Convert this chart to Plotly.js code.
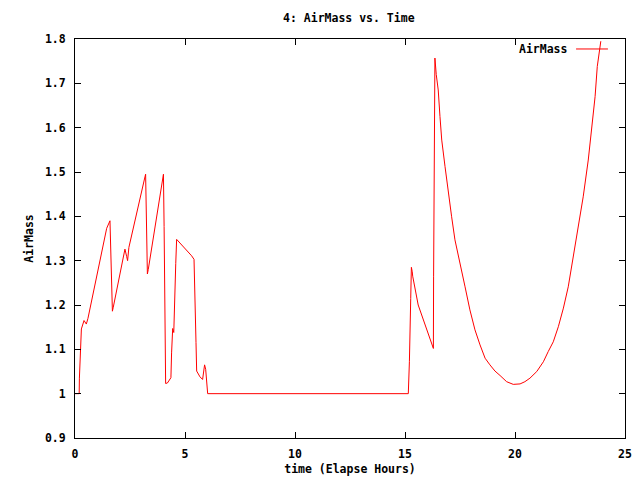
<!DOCTYPE html>
<html>
<head>
<meta charset="utf-8">
<script src="https://cdn.plot.ly/plotly-3.0.1.min.js"></script>
<style>html,body{margin:0;padding:0;background:#fff;}#chart{width:640px;height:480px;}</style>
</head>
<body>
<div id="chart"></div>
<script>
const hours = [0, 0.19, 0.2, 0.26, 0.29, 0.41, 0.515, 0.59, 1.0, 1.44, 1.59, 1.62, 1.65, 1.70, 1.74, 2.0, 2.27, 2.35, 2.39, 2.45, 2.8, 3.18, 3.21, 3.23, 3.26, 3.29, 3.33, 3.65, 3.94, 4.02, 4.05, 4.09, 4.12, 4.20, 4.36, 4.39, 4.44, 4.49, 4.51, 4.58, 4.62, 5.0, 5.30, 5.41, 5.45, 5.50, 5.53, 5.68, 5.80, 5.86, 5.89, 5.94, 5.99, 6.03, 15.15, 15.2, 15.26, 15.29, 15.33, 15.35, 15.6, 16.0, 16.26, 16.29, 16.3, 16.33, 16.36, 16.42, 16.51, 16.59, 16.67, 16.82, 16.97, 17.12, 17.27, 17.5, 17.73, 17.95, 18.18, 18.41, 18.64, 18.86, 19.09, 19.32, 19.62, 19.92, 20.23, 20.45, 20.68, 20.99, 21.29, 21.51, 21.74, 21.97, 22.2, 22.42, 22.65, 22.88, 23.1, 23.33, 23.49, 23.64, 23.74, 23.83, 23.9];
const airmass = [1.0, 1.0, 1.035, 1.106, 1.146, 1.165, 1.157, 1.17, 1.27, 1.373, 1.39, 1.339, 1.24, 1.186, 1.195, 1.26, 1.326, 1.309, 1.30, 1.33, 1.41, 1.489, 1.495, 1.44, 1.326, 1.27, 1.28, 1.38, 1.475, 1.495, 1.377, 1.144, 1.023, 1.024, 1.036, 1.092, 1.147, 1.138, 1.19, 1.294, 1.348, 1.328, 1.311, 1.303, 1.241, 1.115, 1.051, 1.038, 1.032, 1.056, 1.065, 1.055, 1.02, 1.0, 1.0, 1.072, 1.215, 1.285, 1.275, 1.265, 1.2, 1.145, 1.11, 1.102, 1.265, 1.595, 1.757, 1.72, 1.685, 1.625, 1.572, 1.512, 1.452, 1.399, 1.347, 1.29, 1.241, 1.189, 1.144, 1.11, 1.08, 1.065, 1.051, 1.041, 1.027, 1.021, 1.022, 1.027, 1.035, 1.05, 1.072, 1.095, 1.117, 1.151, 1.193, 1.241, 1.309, 1.369, 1.444, 1.527, 1.595, 1.67, 1.738, 1.775, 1.795];
const xTicks = [0, 5, 10, 15, 20, 25];
const xTickText = ["0", "5", "10", "15", "20", "25"];
const yTicks = [0.9, 1.0, 1.1, 1.2, 1.3, 1.4, 1.5, 1.6, 1.7, 1.8];
const yTickText = ["0.9", "1", "1.1", "1.2", "1.3", "1.4", "1.5", "1.6", "1.7", "1.8"];
const seriesName = "AirMass";

const FONT = {family: "DejaVu Sans Mono, Liberation Mono, monospace", size: 11.5, color: "#000", weight: "bold"};

const trace = {
  x: hours, y: airmass, type: "scatter", mode: "lines", name: seriesName,
  line: {color: "#ff0000", width: 1}, showlegend: false
};

const axisCommon = {
  showgrid: false, zeroline: false, showline: true, linecolor: "#000", linewidth: 1,
  mirror: "ticks", ticks: "inside", ticklen: 6, tickcolor: "#000", tickwidth: 1,
  tickfont: FONT, automargin: false, tickmode: "array"
};

const layout = {
  width: 640, height: 480,
  paper_bgcolor: "#fff", plot_bgcolor: "#fff",
  margin: {l: 75, r: 15, t: 39, b: 42},
  font: FONT,
  title: {text: "4: AirMass vs. Time", font: FONT, x: 0.545, xanchor: "center", y: 0.962, yanchor: "middle"},
  xaxis: Object.assign({}, axisCommon, {
    range: [0, 25], tickvals: xTicks, ticktext: xTickText, ticklabelstandoff: 5,
    title: {text: "time (Elapse Hours)", font: FONT, standoff: 5}
  }),
  yaxis: Object.assign({}, axisCommon, {
    range: [0.9, 1.8], tickvals: yTicks, ticktext: yTickText, ticklabelstandoff: 6,
    title: {text: "AirMass", font: FONT, standoff: 8}
  }),
  annotations: [{
    xref: "paper", yref: "paper", x: 0.898, y: 0.975, xanchor: "right", yanchor: "middle",
    text: seriesName, showarrow: false, font: FONT
  }],
  shapes: [{
    type: "line", xref: "paper", yref: "paper", x0: 0.911, x1: 0.969, y0: 0.975, y1: 0.975,
    line: {color: "#ff0000", width: 1}
  }]
};

Plotly.newPlot("chart", [trace], layout, {displayModeBar: false, staticPlot: true});
</script>
</body>
</html>
